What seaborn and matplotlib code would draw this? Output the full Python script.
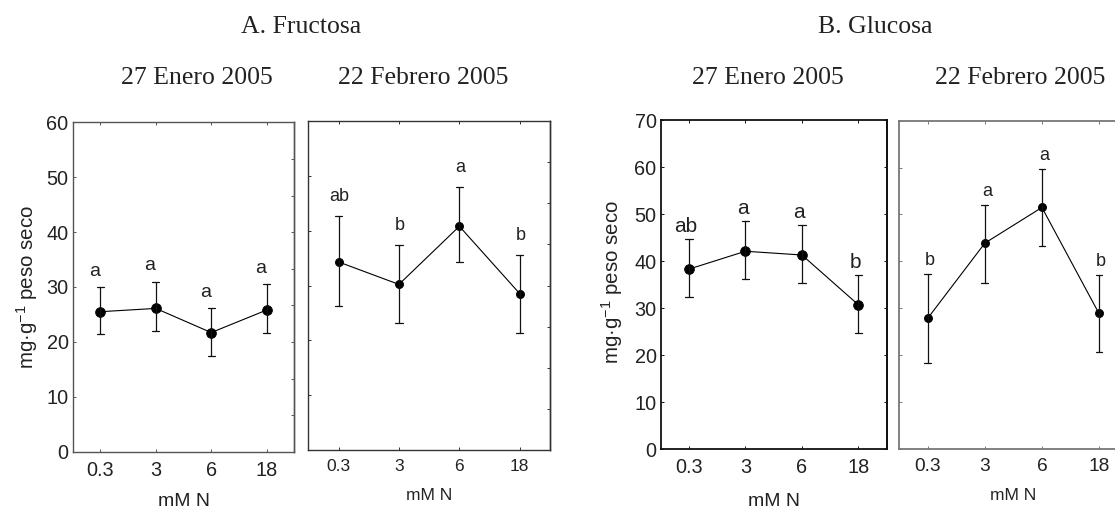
import numpy as np
import pandas as pd
import matplotlib
matplotlib.use("Agg")
import matplotlib.pyplot as plt
import seaborn as sns

# ---------------- data ----------------
doses = ["0.3", "3", "6", "18"]

fru_ene_mean = [25.5, 26.1, 21.7, 25.8]
fru_ene_low = [21.4, 22.0, 17.4, 21.7]
fru_ene_high = [30.0, 31.0, 26.1, 30.5]
fru_ene_letters = ["a", "a", "a", "a"]

fru_feb_mean = [34.3, 30.2, 40.8, 28.5]
fru_feb_low = [26.2, 23.1, 34.2, 21.4]
fru_feb_high = [42.6, 37.3, 47.9, 35.6]
fru_feb_letters = ["ab", "b", "a", "b"]

glu_ene_mean = [38.3, 42.1, 41.3, 30.7]
glu_ene_low = [32.3, 36.1, 35.3, 24.7]
glu_ene_high = [44.8, 48.5, 47.7, 37.1]
glu_ene_letters = ["ab", "a", "a", "b"]

glu_feb_mean = [27.9, 43.9, 51.5, 28.9]
glu_feb_low = [18.4, 35.5, 43.2, 20.6]
glu_feb_high = [37.3, 52.1, 59.6, 37.1]
glu_feb_letters = ["b", "a", "a", "b"]

group_titles = ["A. Fructosa", "B. Glucosa"]
date_titles = ["27 Enero 2005", "22 Febrero 2005"]
ylabel_text = "mg\u00b7g$^{-1}$ peso seco"
xlabel_text = "mM N"

# ---------------- style ----------------
sns.set_style("ticks")
plt.rcParams["font.family"] = ["Liberation Sans", "DejaVu Sans"]
plt.rcParams["mathtext.fontset"] = "custom"
plt.rcParams["mathtext.rm"] = "Liberation Sans"
plt.rcParams["mathtext.it"] = "Liberation Sans:italic"
plt.rcParams["mathtext.default"] = "regular"
TXT = "#222222"

W, H = 1115, 513
fig = plt.figure(figsize=(W / 100, H / 100), dpi=100)
fig.patch.set_facecolor("white")


def px_rect(left, right, top, bottom):
    return [left / W, 1 - bottom / H, (right - left) / W, (bottom - top) / H]


def long_df(mean, low, high):
    return pd.DataFrame({"dose": doses * 3,
                         "val": list(low) + list(mean) + list(high)})


panels = [
    dict(mean=fru_ene_mean, low=fru_ene_low, high=fru_ene_high, letters=fru_ene_letters,
         rect=px_rect(72.7, 294.3, 122.3, 451.7), ymax=60, ylabels=True,
         right_ticks=np.linspace(0, 60, 10), spine="#555555", slw=1.0,
         ms=7.0, cap=0.13, lfs=14.0, tfs=14.3, dy=8.0, dx=-6, lx=183.5, ly=502, xfs=14),
    dict(mean=fru_feb_mean, low=fru_feb_low, high=fru_feb_high, letters=fru_feb_letters,
         rect=px_rect(308.3, 550.0, 121.0, 450.0), ymax=60, ylabels=False,
         right_ticks=np.linspace(0, 60, 9), spine="#333333", slw=1.0,
         ms=5.8, cap=0.12, lfs=13.0, tfs=12.5, dy=10.8, dx=1, lx=429, ly=495, xfs=12.5),
    dict(mean=glu_ene_mean, low=glu_ene_low, high=glu_ene_high, letters=glu_ene_letters,
         rect=px_rect(660.7, 886.7, 120.0, 449.3), ymax=70, ylabels=True,
         right_ticks=np.arange(0, 71, 10), spine="#111111", slw=1.3,
         ms=7.0, cap=0.13, lfs=15.0, tfs=14.3, dy=5.0, dx=-3, lx=773.7, ly=502, xfs=14),
    dict(mean=glu_feb_mean, low=glu_feb_low, high=glu_feb_high, letters=glu_feb_letters,
         rect=px_rect(899.3, 1127.5, 120.7, 449.0), ymax=70, ylabels=False,
         right_ticks=np.arange(0, 71, 10), spine="#777777", slw=1.3,
         ms=5.8, cap=0.12, lfs=13.0, tfs=13.8, dy=6.5, dx=2, lx=1013, ly=495, xfs=12.5),
]

for p in panels:
    ax = fig.add_axes(p["rect"])
    df = long_df(p["mean"], p["low"], p["high"])
    sns.pointplot(data=df, x="dose", y="val", order=doses, estimator="median",
                  errorbar=lambda v: (v.min(), v.max()), color="black",
                  capsize=p["cap"], err_kws={"linewidth": 0.9, "color": "#111111"},
                  marker="o", markersize=p["ms"], linewidth=0.8, ax=ax)
    ax.set_xlim(-0.5, 3.5)
    ax.set_ylim(0, p["ymax"])
    ax.set_yticks(np.arange(0, p["ymax"] + 1, 10))
    ax.set_xlabel("")
    ax.set_ylabel("")
    for s in ax.spines.values():
        s.set_visible(True)
        s.set_color(p["spine"])
        s.set_linewidth(p["slw"])
    ax.tick_params(axis="both", direction="in", length=2.5, width=0.7,
                   colors=p["spine"], labelcolor=TXT)
    ax.tick_params(axis="x", top=True, labelsize=p["tfs"], pad=6.5)
    ax.tick_params(axis="y", labelsize=p["tfs"], pad=3, labelleft=p["ylabels"])
    sec = ax.secondary_yaxis("right")
    sec.set_yticks(p["right_ticks"])
    sec.tick_params(direction="in", length=2.5, width=0.7, colors=p["spine"],
                    labelright=False)
    sec.spines["right"].set_color(p["spine"])
    sec.spines["right"].set_linewidth(p["slw"])

    for i, (lab, top) in enumerate(zip(p["letters"], p["high"])):
        ax.annotate(lab, xy=(i, top), xytext=(p["dx"] * 0.72, p["dy"]),
                    textcoords="offset points", ha="center", va="baseline",
                    fontsize=p["lfs"], color=TXT)

    fig.text(p["lx"] / W, 1 - p["ly"] / H, xlabel_text, ha="center", va="center",
             fontsize=p["xfs"], color=TXT)

# y labels
fig.text(26.7 / W, 1 - 287 / H, ylabel_text, rotation=90, ha="center", va="center",
         fontsize=14.8, color=TXT)
fig.text(612 / W, 1 - 282 / H, ylabel_text, rotation=90, ha="center", va="center",
         fontsize=14.8, color=TXT)

# titles
serif = ["Liberation Serif", "DejaVu Serif"]
fig.text(301.5 / W, 1 - 27 / H, group_titles[0], ha="center", va="center",
         family=serif, fontsize=18.5, color=TXT)
fig.text(875 / W, 1 - 27 / H, group_titles[1], ha="center", va="center",
         family=serif, fontsize=18.5, color=TXT)
fig.text(196.7 / W, 1 - 78 / H, date_titles[0], ha="center", va="center",
         family=serif, fontsize=18.5, color=TXT)
fig.text(423 / W, 1 - 78 / H, date_titles[1], ha="center", va="center",
         family=serif, fontsize=18.5, color=TXT)
fig.text(768 / W, 1 - 78 / H, date_titles[0], ha="center", va="center",
         family=serif, fontsize=18.5, color=TXT)
fig.text(1020 / W, 1 - 78 / H, date_titles[1], ha="center", va="center",
         family=serif, fontsize=18.5, color=TXT)

fig.savefig("out.png", dpi=100, facecolor="white")
